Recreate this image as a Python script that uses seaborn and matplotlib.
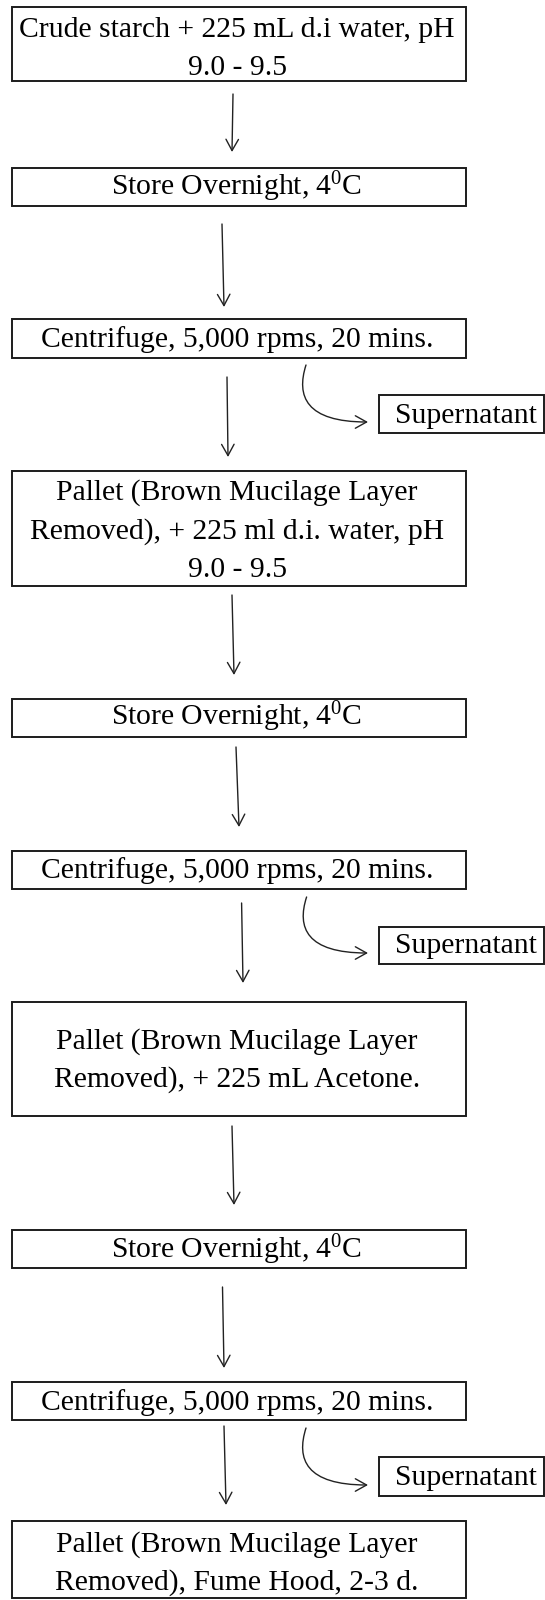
import matplotlib
matplotlib.use("Agg")
import matplotlib.pyplot as plt
from matplotlib.patches import Rectangle, FancyArrowPatch
from matplotlib.path import Path
import seaborn as sns

# ---- content (text of the flowchart) ----
step_labels = [
    ["Crude starch + 225 mL d.i water, pH", "9.0 - 9.5"],
    ["Store Overnight, 4$^{0}$C"],
    ["Centrifuge, 5,000 rpms, 20 mins."],
    ["Pallet (Brown Mucilage Layer", "Removed), + 225 ml d.i. water, pH", "9.0 - 9.5"],
    ["Store Overnight, 4$^{0}$C"],
    ["Centrifuge, 5,000 rpms, 20 mins."],
    ["Pallet (Brown Mucilage Layer", "Removed), + 225 mL Acetone."],
    ["Store Overnight, 4$^{0}$C"],
    ["Centrifuge, 5,000 rpms, 20 mins."],
    ["Pallet (Brown Mucilage Layer", "Removed), Fume Hood, 2-3 d."],
]
side_label = "Supernatant"
side_from_steps = [2, 5, 8]

# ---- layout (pixels, y downward) ----
box_left, box_right = 12, 466
box_tops = [7, 168, 319, 471, 699, 851, 1002, 1230, 1382, 1521]
box_bottoms = [81, 206, 358, 586, 737, 889, 1116, 1268, 1420, 1598]
line_baselines = [[36.7, 75], [195], [346.7], [500, 538.3, 576.7], [725], [878.3],
                  [1048.3, 1086.7], [1258.3], [1410], [1551.7, 1590]]
text_x = 237

arrow_starts = [(233, 94), (222, 224), (227, 377), (232, 595), (236, 747),
                (241.6, 903), (232, 1126), (222.5, 1287), (224, 1426)]
arrow_ends = [(232, 152), (224, 307), (228, 457), (234, 675), (239, 827),
              (243, 983), (234, 1205), (224, 1368), (226, 1505)]

side_left, side_right = 379, 544
side_tops = [395, 927, 1457]
side_bottoms = [433, 964, 1496]
side_baselines = [423.3, 953.3, 1485]
side_text_x = 466
curve_starts = [(306, 365), (306.6, 897), (306, 1428)]
curve_ends = [(368, 422), (368, 953), (368, 1485)]

sns.set_theme(style="white")
plt.rcParams["font.family"] = ["Liberation Serif", "DejaVu Serif"]
plt.rcParams["mathtext.fontset"] = "custom"
plt.rcParams["mathtext.rm"] = "Liberation Serif"
plt.rcParams["mathtext.default"] = "rm"

fig = plt.figure(figsize=(5.45, 16.0), dpi=100)
ax = fig.add_axes([0, 0, 1, 1])
ax.set_xlim(0, 545)
ax.set_ylim(1600, 0)
ax.axis("off")

edge = "#1c1c1c"
fs = 21.3

for lines, top, bot, bls in zip(step_labels, box_tops, box_bottoms, line_baselines):
    ax.add_patch(Rectangle((box_left, top), box_right - box_left, bot - top,
                           fill=False, edgecolor=edge, linewidth=1.4))
    for txt, bl in zip(lines, bls):
        ax.text(text_x, bl, txt, ha="center", va="baseline", fontsize=fs, color="black")

for (x0, y0), (x1, y1) in zip(arrow_starts, arrow_ends):
    ax.add_patch(FancyArrowPatch((x0, y0), (x1, y1),
                                 arrowstyle="->,head_length=0.45,head_width=0.25",
                                 mutation_scale=18, color="#222222", linewidth=1.0,
                                 shrinkA=0, shrinkB=0))

for top, bot, bl, (sx, sy), (ex, ey) in zip(side_tops, side_bottoms, side_baselines,
                                              curve_starts, curve_ends):
    ax.add_patch(Rectangle((side_left, top), side_right - side_left, bot - top,
                           fill=False, edgecolor=edge, linewidth=1.4))
    ax.text(side_text_x, bl, side_label, ha="center", va="baseline", fontsize=fs, color="black")
    dx, dy = ex - sx, ey - sy
    verts = [(sx, sy), (sx - 10, sy + 0.55 * dy), (sx, sy + dy), (ex, ey)]
    path = Path(verts, [Path.MOVETO, Path.CURVE4, Path.CURVE4, Path.CURVE4])
    ax.add_patch(FancyArrowPatch(path=path,
                                 arrowstyle="->,head_length=0.45,head_width=0.25",
                                 mutation_scale=18, color="#222222", linewidth=1.0))

fig.savefig("out.png", dpi=100)
